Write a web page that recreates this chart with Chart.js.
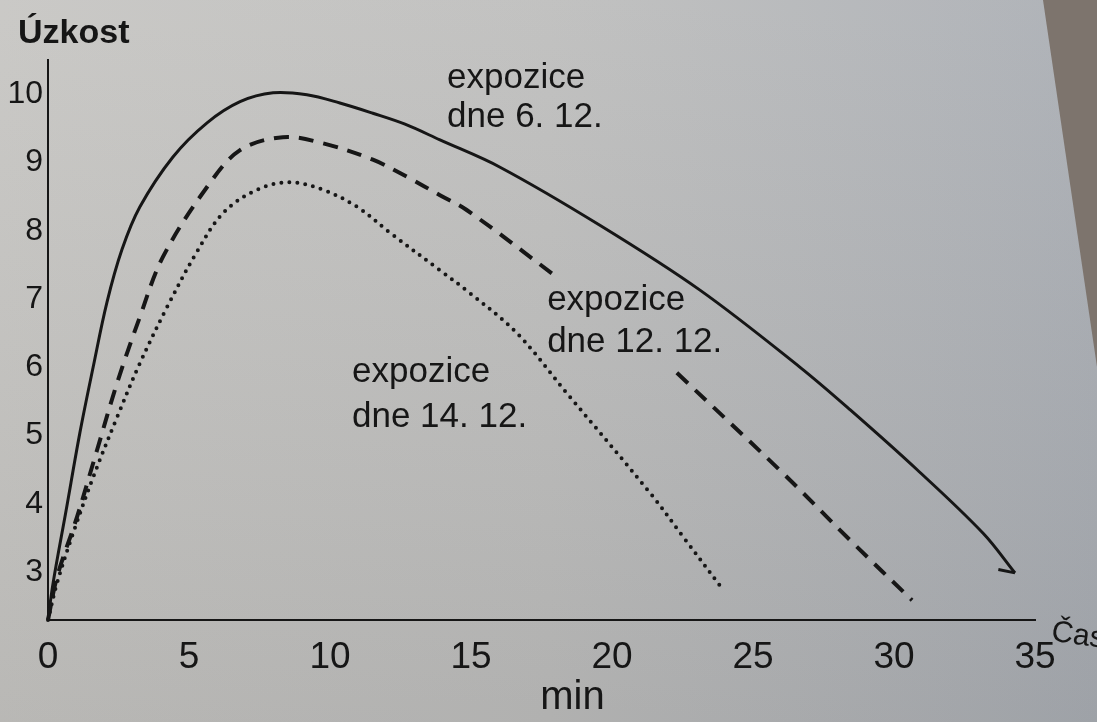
<!DOCTYPE html>
<html lang="cs">
<head>
  <meta charset="UTF-8">
  <script src="https://cdn.jsdelivr.net/npm/chart.js"></script>
  <title>Úzkost při expozici</title>
  <style>
    html, body { margin: 0; padding: 0; background: #bdbdbc; }
    #obal { width: 1097px; height: 722px; }
  </style>
</head>
<body>
  <div id="obal">
    <canvas id="graf" width="1097" height="722"></canvas>
  </div>
<script>
  // hodnoty (čas v min, úzkost)
  var casTicky = [0, 5, 10, 15, 20, 25, 30, 35]
  var uzkostTicky = [3, 4, 5, 6, 7, 8, 9, 10]

  // expozice dne 6. 12. (plná čára)
  var cas6 = [0, 0.18, 0.64, 1.13, 1.6, 2.09, 2.62, 3.26, 4.43, 5.64, 6.81, 7.98, 9.18, 10.35, 11.52, 12.66, 13.9, 16.03, 19.57, 23.12, 26.67, 28.44, 30.82, 33.16, 34.29]
  var uzkost6 = [2.3, 2.84, 3.9, 5.04, 6.0, 6.95, 7.72, 8.35, 9.08, 9.58, 9.89, 10.02, 9.99, 9.87, 9.72, 9.56, 9.33, 8.93, 8.08, 7.13, 6.0, 5.38, 4.5, 3.57, 2.99]
  // háček na konci plné čáry
  var casHrot = [33.7, 34.29]
  var uzkostHrot = [3.04, 2.99]

  // expozice dne 12. 12. (čárkovaná), null = mezera pro popisek
  var cas12 = [0, 0.32, 1.03, 1.74, 2.45, 3.26, 4.08, 5.64, 6.81, 8.33, 9.75, 11.52, 12.73, 13.9, 14.86, 18.05, 20.2, 22.3, 26.06, 28.44, 30.64]
  var uzkost12 = [2.3, 2.93, 3.81, 4.79, 5.77, 6.74, 7.62, 8.64, 9.18, 9.37, 9.28, 9.04, 8.79, 8.52, 8.3, 7.32, null, 5.92, 4.45, 3.47, 2.59]

  // expozice dne 14. 12. (tečkovaná)
  var cas14 = [0, 0.32, 0.89, 1.6, 2.45, 3.26, 4.22, 5.28, 6.21, 7.41, 8.58, 9.75, 10.96, 12.13, 13.9, 14.86, 16.63, 18.4, 21.35, 22.52, 23.94]
  var uzkost14 = [2.3, 2.84, 3.57, 4.39, 5.27, 6.06, 6.88, 7.69, 8.26, 8.6, 8.71, 8.6, 8.35, 7.97, 7.42, 7.12, 6.5, 5.62, 4.16, 3.52, 2.74]

  // popisky křivek: [text, x, y]
  var popisky = [
    ['expozice', 14.15, 10.09], ['dne 6. 12.', 14.15, 9.52],
    ['expozice', 17.7, 6.84], ['dne 12. 12.', 17.7, 6.22],
    ['expozice', 10.78, 5.78], ['dne 14. 12.', 10.78, 5.13]
  ]

  function body(xs, ys) {
    var out = []
    for (let i = 0; i < xs.length; i++) {
      out.push({ x: xs[i], y: ys[i] })
    }
    return out
  }

  var barva = '#161616'
  var pismo = "'Liberation Sans', Arial, sans-serif"

  // pozadí - fotka stránky
  var pozadi = {
    id: 'pozadi',
    beforeDraw(chart) {
      var ctx = chart.ctx
      var w = chart.width, h = chart.height
      ctx.save()
      var g = ctx.createLinearGradient(0, 0, w, 0)
      g.addColorStop(0, '#c7c6c3')
      g.addColorStop(0.5, '#bebebd')
      g.addColorStop(1, '#aaaeb4')
      ctx.fillStyle = g
      ctx.fillRect(0, 0, w, h)
      var g2 = ctx.createLinearGradient(0, 0, 0, h)
      g2.addColorStop(0, 'rgba(255,255,255,0.06)')
      g2.addColorStop(1, 'rgba(0,0,0,0.07)')
      ctx.fillStyle = g2
      ctx.fillRect(0, 0, w, h)
      // okraj vedlejší stránky vpravo nahoře
      ctx.fillStyle = '#7d746d'
      ctx.beginPath()
      ctx.moveTo(1043, 0)
      ctx.lineTo(w, 0)
      ctx.lineTo(w, 367)
      ctx.closePath()
      ctx.fill()
      ctx.restore()
    }
  }

  var texty = {
    id: 'texty',
    afterDraw(chart) {
      var ctx = chart.ctx
      var sx = chart.scales.x, sy = chart.scales.y
      ctx.save()
      ctx.fillStyle = barva
      ctx.textBaseline = 'alphabetic'
      ctx.textAlign = 'left'
      ctx.font = '35px ' + pismo
      popisky.forEach(function (p) {
        ctx.fillText(p[0], sx.getPixelForValue(p[1]), sy.getPixelForValue(p[2]))
      })

      ctx.textBaseline = 'middle'
      ctx.font = 'bold 34px ' + pismo
      ctx.fillText('Úzkost', 18, 34)

      ctx.font = '40px ' + pismo
      ctx.textAlign = 'center'
      ctx.fillText('min', sx.getPixelForValue(18.6), 698)

      ctx.save()
      ctx.translate(1078, 636)
      ctx.rotate(0.14)
      ctx.font = '30px ' + pismo
      ctx.fillText('Čas', 0, 0)
      ctx.restore()
      ctx.restore()
    }
  }

  var data = {
    datasets: [
      {
        label: 'expozice dne 6. 12.',
        data: body(cas6, uzkost6),
        borderColor: barva,
        borderWidth: 3,
        tension: 0.35
      },
      {
        label: 'hrot',
        data: body(casHrot, uzkostHrot),
        borderColor: barva,
        borderWidth: 3,
        tension: 0
      },
      {
        label: 'expozice dne 12. 12.',
        data: body(cas12, uzkost12),
        borderColor: barva,
        borderWidth: 4,
        borderDash: [15, 10],
        tension: 0.35,
        spanGaps: false
      },
      {
        label: 'expozice dne 14. 12.',
        data: body(cas14, uzkost14),
        borderColor: barva,
        borderWidth: 4,
        borderDash: [0, 8],
        borderCapStyle: 'round',
        tension: 0.35
      }
    ]
  }

  var config = {
    type: 'line',
    data: data,
    plugins: [pozadi, texty],
    options: {
      responsive: false,
      animation: false,
      events: [],
      clip: false,
      elements: { point: { radius: 0 } },
      layout: { padding: { left: 0, top: 60, right: 62, bottom: 0 } },
      plugins: {
        legend: { display: false },
        tooltip: { enabled: false }
      },
      scales: {
        x: {
          type: 'linear',
          min: 0,
          max: 35,
          grid: { display: false, drawTicks: false },
          border: { display: true, color: barva, width: 2 },
          afterBuildTicks(scale) {
            scale.ticks = casTicky.map(function (v) { return { value: v } })
          },
          afterFit(scale) { scale.height = 102 },
          ticks: {
            color: barva,
            padding: 16,
            maxRotation: 0,
            font: { family: pismo, size: 37 }
          }
        },
        y: {
          min: 2.3,
          max: 10.5,
          grid: { display: false, drawTicks: false },
          border: { display: true, color: barva, width: 2 },
          afterBuildTicks(scale) {
            scale.ticks = uzkostTicky.map(function (v) { return { value: v } })
          },
          afterFit(scale) { scale.width = 48 },
          ticks: {
            color: barva,
            padding: 5,
            font: { family: pismo, size: 32 }
          }
        }
      }
    }
  }

  const graf = new Chart(document.getElementById('graf'), config)
</script>
</body>
</html>
